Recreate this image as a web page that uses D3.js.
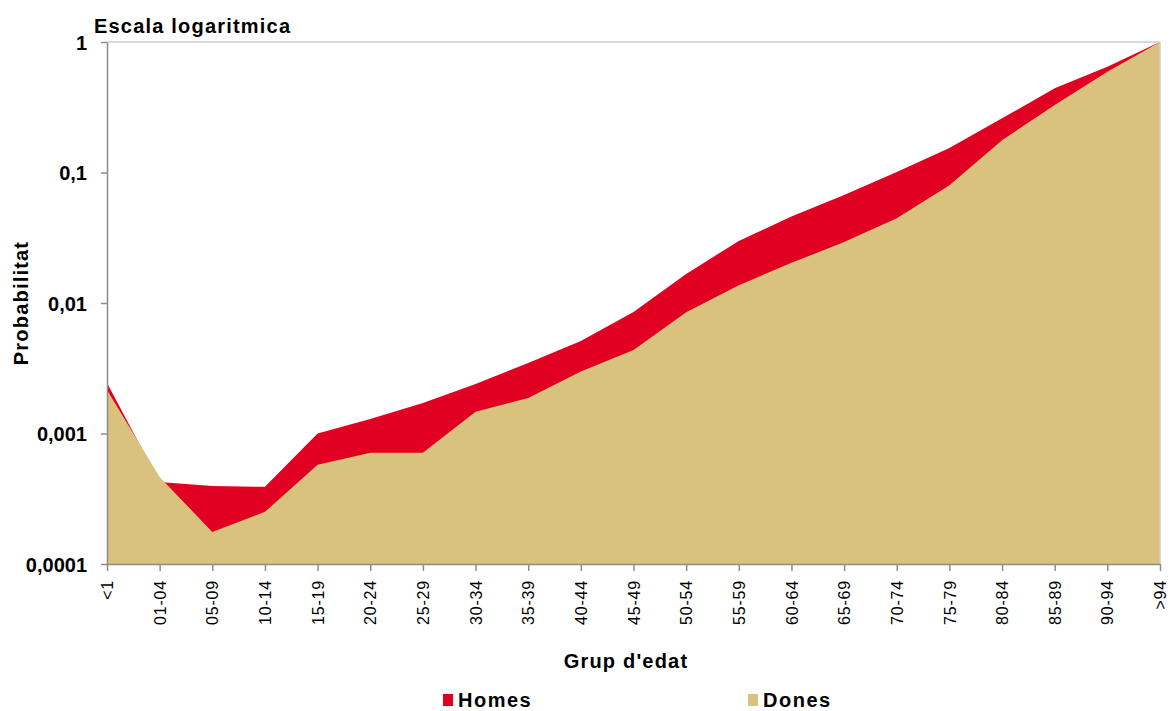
<!DOCTYPE html>
<html><head><meta charset="utf-8">
<script src="https://cdn.jsdelivr.net/npm/d3@7"></script>
<style>
body{margin:0;background:#fff;}
text{font-family:"Liberation Sans",Arial,sans-serif;}
</style></head>
<body><svg id="c" width="1171" height="711"></svg>
<script>
const categories = ["<1","01-04","05-09","10-14","15-19","20-24","25-29","30-34","35-39","40-44","45-49","50-54","55-59","60-64","65-69","70-74","75-79","80-84","85-89","90-94",">94"];
const homes = [0.00244,0.000425,0.000396,0.00039,0.001,0.00129,0.00171,0.00239,0.00347,0.00512,0.00853,0.0167,0.0299,0.046,0.0673,0.101,0.154,0.26,0.442,0.647,1];
const dones = [0.00215,0.000464,0.000176,0.000251,0.000575,0.000713,0.000713,0.00147,0.00187,0.00298,0.00436,0.0085,0.0137,0.0203,0.0293,0.0447,0.080,0.177,0.329,0.592,1];
const yTicks = [1,0.1,0.01,0.001,0.0001];
const yTickLabels = ["1","0,1","0,01","0,001","0,0001"];

const svg = d3.select("#c");
const L=107, R=1160, T=42, B=564;
const x = d3.scalePoint().domain(categories).range([L,R]);
const y = d3.scaleLog().domain([0.0001,1]).range([B,T]);

const area = vals => d3.area().x((d,i)=>x(categories[i])).y0(B).y1(d=>y(d))(vals);
svg.append("path").attr("d",area(homes)).attr("fill","#e10022");
svg.append("path").attr("d",area(dones)).attr("fill","#d8c27e");

// frame
svg.append("line").attr("x1",L).attr("x2",R).attr("y1",T).attr("y2",T).attr("stroke","#cccccc").attr("stroke-width",1.5);
svg.append("line").attr("x1",R).attr("x2",R).attr("y1",T).attr("y2",B).attr("stroke","#cccccc").attr("stroke-width",1.5);

// y axis
const ya = svg.append("g").attr("transform",`translate(${L},0)`)
  .call(d3.axisLeft(y).tickValues(yTicks).tickSize(6).tickSizeOuter(0).tickFormat((d,i)=>yTickLabels[i]));
ya.select(".domain").attr("stroke","#8c8c8c").attr("stroke-width",1.5);
ya.selectAll(".tick line").attr("stroke","#8c8c8c").attr("stroke-width",1.5);
ya.selectAll(".tick text").attr("font-size",20).attr("font-weight","bold").attr("fill","#000")
  .attr("x",-20).attr("dy","0.35em");

// x axis
const xa = svg.append("g").attr("transform",`translate(0,${B})`)
  .call(d3.axisBottom(x).tickSize(7).tickSizeOuter(0));
xa.select(".domain").attr("stroke","#8c8c8c").attr("stroke-width",1.5);
xa.selectAll(".tick line").attr("stroke","#8c8c8c").attr("stroke-width",1.5);
xa.selectAll(".tick text").attr("font-size",16).attr("letter-spacing","0.8px").attr("fill","#000")
  .attr("transform","rotate(-90)").attr("text-anchor","end").attr("x",-16).attr("y",0).attr("dy","0.35em");

// titles
const ls = "1.2px";
svg.append("text").attr("x",94).attr("y",33).attr("font-size",20).attr("letter-spacing",ls).attr("font-weight","bold").text("Escala logaritmica");
svg.append("text").attr("transform","translate(28,303) rotate(-90)").attr("text-anchor","middle").attr("font-size",20).attr("letter-spacing",ls).attr("font-weight","bold").text("Probabilitat");
svg.append("text").attr("x",626).attr("y",668).attr("text-anchor","middle").attr("font-size",20).attr("letter-spacing",ls).attr("font-weight","bold").text("Grup d'edat");

// legend
const leg = [{n:"Homes",c:"#e10022",x:443},{n:"Dones",c:"#d8c27e",x:748}];
leg.forEach(l=>{
  svg.append("rect").attr("x",l.x).attr("y",694).attr("width",10).attr("height",12).attr("fill",l.c);
  svg.append("text").attr("x",l.x+15).attr("y",707).attr("font-size",20).attr("letter-spacing","1.5px").attr("font-weight","bold").text(l.n);
});
</script></body></html>
